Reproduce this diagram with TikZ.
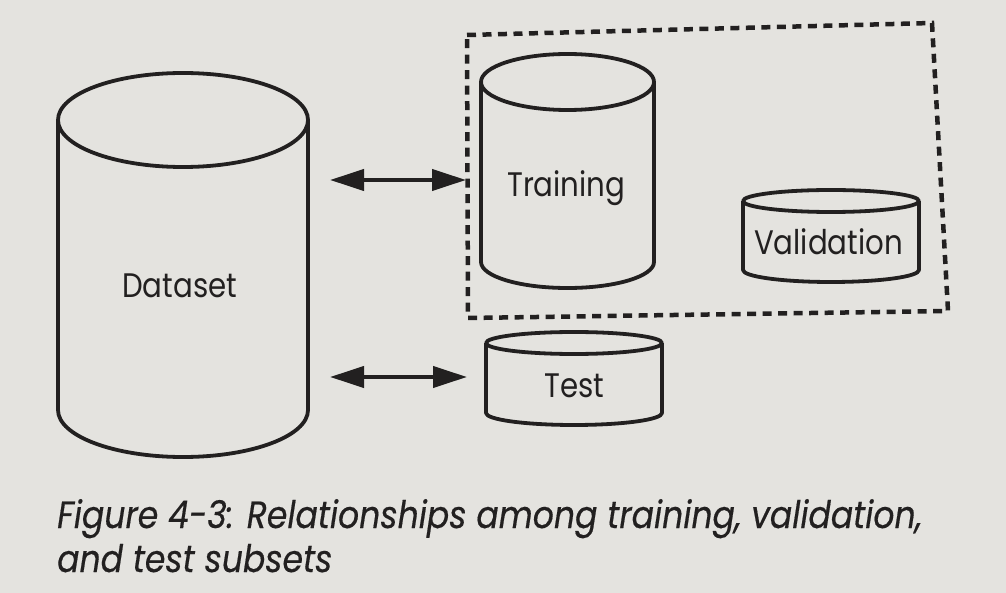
\documentclass[tikz,border=0pt]{standalone}
\usepackage{fontspec}
\setmainfont{Poppins}
\newfontfamily\labfont[FakeStretch=0.86]{Poppins}
\newfontfamily\capfont[FakeStretch=0.87,FakeBold=0.4]{Poppins}
\usetikzlibrary{arrows.meta}
\definecolor{paper}{RGB}{228,227,223}
\definecolor{ink}{RGB}{34,32,32}
\begin{document}
\begin{tikzpicture}[x=1pt,y=-1pt,
  cyl/.style={line width=3.8pt, draw=ink, line join=round},
  dbox/.style={line width=4.5pt, draw=ink, dash pattern=on 9pt off 6.5pt},
  twoway/.style={line width=4pt, draw=ink, {Triangle[length=34pt,width=21pt]}-{Triangle[length=34pt,width=21pt]}},
  lab/.style={font=\labfont\fontsize{34}{34}\selectfont, text=ink, inner sep=0pt, anchor=base west},
  captext/.style={font=\capfont\itshape\fontsize{38}{38}\selectfont, text=ink, inner sep=0pt, anchor=base west}]
\fill[paper] (0,0) rectangle (1006,593);
\useasboundingbox (0,0) rectangle (1006,593);
% Dataset cylinder
\draw[cyl] (58,120) -- (58,410) arc[start angle=180, end angle=0, x radius=125, y radius=47] -- (308,120);
\draw[cyl] (183,120) ellipse[x radius=125, y radius=47];
\node[lab] (dataset) at (122,298) {Dataset};
% Training cylinder
\draw[cyl] (481,82) -- (481,262) arc[start angle=180, end angle=0, x radius=86.5, y radius=26] -- (654,82);
\draw[cyl] (567.5,82) ellipse[x radius=86.5, y radius=28];
\node[lab] (training) at (507,197) {Training};
% Validation cylinder
\draw[cyl] (743,201) -- (743,270) arc[start angle=180, end angle=0, x radius=88, y radius=12] -- (919,201);
\draw[cyl] (831,201) ellipse[x radius=88, y radius=11];
\node[lab] (validation) at (754,255) {Validation};
% Test cylinder
\draw[cyl] (486,343) -- (486,413) arc[start angle=180, end angle=0, x radius=88, y radius=12] -- (662,343);
\draw[cyl] (574,343) ellipse[x radius=88, y radius=11];
\node[lab] (test) at (544,397) {Test};
% dashed group box
\coordinate (tl) at (467,35);
\coordinate (tr) at (932,23);
\coordinate (br) at (948,311);
\coordinate (bl) at (468,318);
\draw[dbox] (tl) -- (tr) -- (br) -- (bl) -- cycle;
% arrows
\coordinate (a1s) at (330,180);
\coordinate (a1e) at (466,180);
\coordinate (a2s) at (330,377);
\coordinate (a2e) at (467,377);
\draw[twoway] (a1s) -- (a1e);
\draw[twoway] (a2s) -- (a2e);
% caption
\node[captext] (cap1) at (57,528) {Figure 4-3: Relationships among training, validation,};
\node[captext] (cap2) at (57,572) {and test subsets};
\end{tikzpicture}
\end{document}
